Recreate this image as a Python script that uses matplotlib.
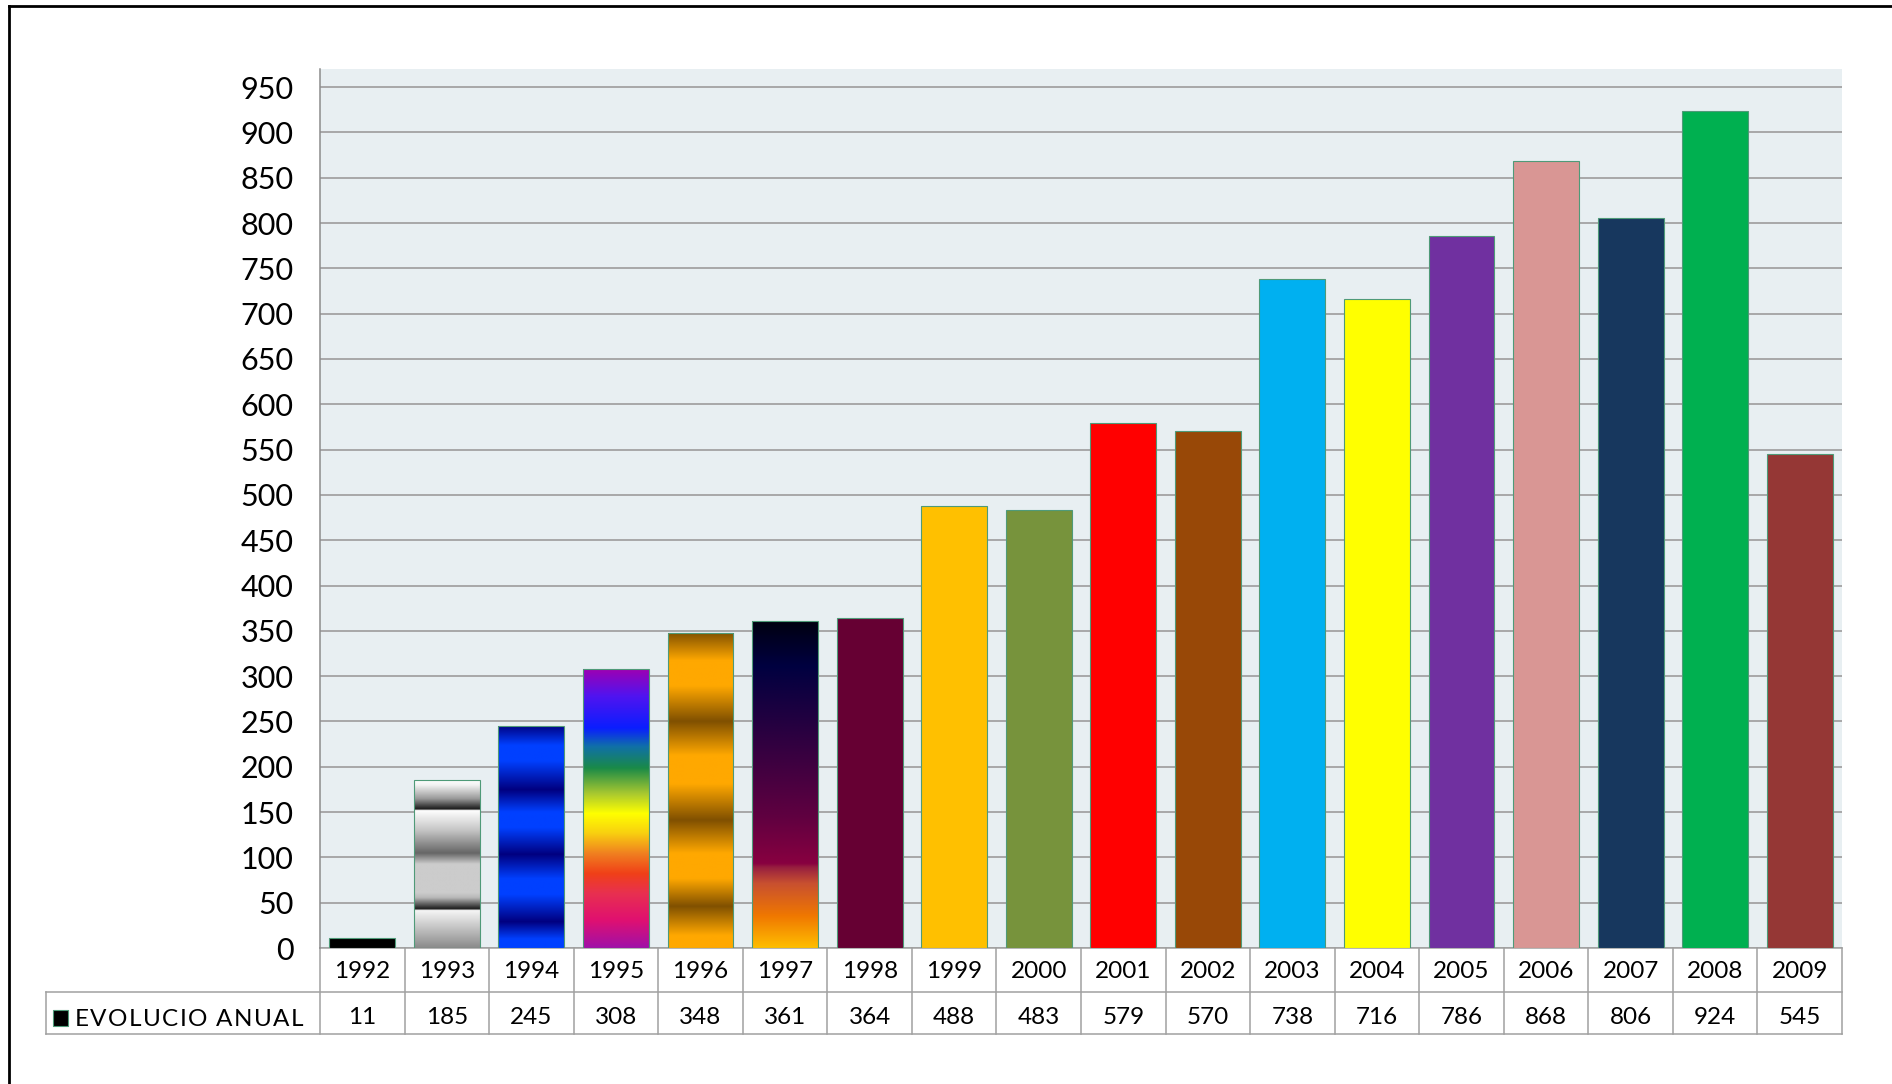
import numpy as np
import matplotlib
matplotlib.use("Agg")
import matplotlib.pyplot as plt
from matplotlib.colors import LinearSegmentedColormap
from matplotlib.lines import Line2D
from matplotlib.patches import Rectangle

# ---------------- data ----------------
years = ["1992", "1993", "1994", "1995", "1996", "1997", "1998", "1999", "2000",
         "2001", "2002", "2003", "2004", "2005", "2006", "2007", "2008", "2009"]
values = [11, 185, 245, 308, 348, 361, 364, 488, 483, 579, 570, 738, 716, 786,
          868, 806, 924, 545]
series_name = "EVOLUCIO ANUAL"
yticks = list(range(0, 951, 50))

# ---------------- styles ----------------
colors = ["#000000", None, None, None, None, None, "#660033", "#ffc000", "#77933c",
          "#ff0000", "#984807", "#00b0f0", "#ffff00", "#7030a0", "#d99694",
          "#17375e", "#00b050", "#953735"]
gradients = {
    1: [(0.0, "#8a8a8a"), (0.225, "#f6f6f6"), (0.232, "#1a1a1a"), (0.30, "#b8b8b8"),
        (0.33, "#cccccc"), (0.50, "#cccccc"), (0.565, "#666666"), (0.70, "#c4c4c4"),
        (0.82, "#ffffff"), (0.827, "#1a1a1a"), (0.89, "#9a9a9a"), (0.97, "#f2f2f2"),
        (1.0, "#ffffff")],
    2: [(0.0, "#0040ff"), (0.04, "#0040ff"), (0.118, "#000080"), (0.24, "#0040ff"),
        (0.31, "#0040ff"), (0.42, "#000080"), (0.54, "#0040ff"), (0.61, "#0040ff"),
        (0.71, "#000080"), (0.84, "#0040ff"), (0.91, "#0040ff"), (1.0, "#000080")],
    3: [(0.0, "#a010a8"), (0.10, "#e01070"), (0.195, "#e83050"), (0.266, "#f04018"),
        (0.338, "#f08020"), (0.41, "#f8d010"), (0.48, "#ffff00"), (0.552, "#a8c830"),
        (0.643, "#1a8a48"), (0.72, "#1070a8"), (0.786, "#0a1eff"), (0.90, "#5014f0"),
        (1.0, "#a000b0")],
    4: [(0.0, "#ffa800"), (0.04, "#ffa800"), (0.132, "#805000"), (0.22, "#ffa800"),
        (0.30, "#ffa800"), (0.405, "#805000"), (0.52, "#ffa800"), (0.61, "#ffa800"),
        (0.718, "#805000"), (0.83, "#ffa800"), (0.91, "#ffa800"), (1.0, "#805000")],
    5: [(0.0, "#ffbe00"), (0.097, "#f07800"), (0.197, "#c85030"), (0.245, "#98203f"),
        (0.258, "#880040"), (0.40, "#600040"), (0.554, "#400040"), (0.706, "#200040"),
        (0.86, "#000040"), (1.0, "#000010")],
}

plt.rcParams["font.family"] = ["Lato", "DejaVu Sans"]

W, H = 1892, 1084
fig = plt.figure(figsize=(W / 100, H / 100), dpi=100)
fig.patch.set_facecolor("white")

L, R, T, B = 320, 1842, 69, 948
ax = fig.add_axes([L / W, 1 - B / H, (R - L) / W, (B - T) / H])
ax.set_facecolor("#e8eff2")

n = len(years)
x = np.arange(n)
bars = ax.bar(x, values, width=0.78, color=[c if c else "none" for c in colors],
              edgecolor="#4f9a78", linewidth=0.8, zorder=3)

for i, stops in gradients.items():
    b = bars[i]
    cmap = LinearSegmentedColormap.from_list(f"g{i}", stops, N=1024)
    img = np.linspace(0, 1, 1024).reshape(-1, 1)
    im = ax.imshow(img, cmap=cmap, origin="lower", aspect="auto", interpolation="bilinear",
                   extent=(b.get_x(), b.get_x() + b.get_width(), 0, b.get_height()),
                   zorder=2.5)
    im.set_clip_path(b)

ax.set_xlim(-0.5, n - 0.5)
ax.set_ylim(0, 970)
ax.set_yticks(yticks)
ax.set_yticklabels([str(v) for v in yticks], fontsize=22)
ax.tick_params(axis="y", length=0, pad=19)
ax.set_xticks([])
ax.yaxis.grid(True, color="#a8a8a8", linewidth=1.4)
ax.set_axisbelow(True)
for s in ["top", "right", "bottom"]:
    ax.spines[s].set_visible(False)
ax.spines["left"].set_color("#8c8c8c")
ax.spines["left"].set_linewidth(1.1)

# ---------------- data table ----------------
tcol = "#a0a0a0"
tlw = 1.1
r1 = -(992 - B) / (B - T)
r2 = -(1034 - B) / (B - T)
trans = ax.get_xaxis_transform()
label_left = -0.5 - (L - 46) / ((R - L) / n)
px = 1 / (B - T)

def hline(x0, x1, y):
    ax.add_line(Line2D([x0, x1], [y, y], transform=trans, color=tcol, lw=tlw, clip_on=False))

def vline(xv, y0, y1):
    ax.add_line(Line2D([xv, xv], [y0, y1], transform=trans, color=tcol, lw=tlw, clip_on=False))

hline(-0.5, n - 0.5, 0)
hline(label_left, n - 0.5, r1)
hline(label_left, n - 0.5, r2)
for k in range(n + 1):
    vline(k - 0.5, 0, r2)
vline(label_left, r1, r2)

for i in range(n):
    ax.text(x[i], r1 / 2 - 2 * px, years[i], transform=trans, ha="center", va="center",
            fontsize=17.5, clip_on=False)
    ax.text(x[i], (r1 + r2) / 2 - 4 * px, str(values[i]), transform=trans, ha="center",
            va="center", fontsize=17.5, clip_on=False)

# legend key + series label (letter-spaced)
fig.add_artist(Rectangle((53 / W, 1 - 1026 / H), 15 / W, 16 / H, transform=fig.transFigure,
                         facecolor="black", edgecolor="#4f9a78", lw=0.8))
renderer = fig.canvas.get_renderer()
chars = list(series_name)
ycen = 1 - 1019 / H
widths = []
tmp = []
for ch in chars:
    t = fig.text(0, ycen, ch if ch != " " else "n", fontsize=17.5, va="center")
    wd = t.get_window_extent(renderer).width
    widths.append(wd if ch != " " else wd * 0.45)
    tmp.append(t)
for t in tmp:
    t.remove()
x0, x1 = 75, 303
track = ((x1 - x0) - sum(widths)) / (len(chars) - 1)
xp = x0
for ch, w in zip(chars, widths):
    if ch != " ":
        fig.text(xp / W, ycen, ch, fontsize=17.5, va="center", ha="left")
    xp += w + track

# outer frame (top and left)
fig.add_artist(Line2D([9 / W, 1], [1 - 6 / H, 1 - 6 / H], transform=fig.transFigure,
                      color="black", lw=2))
fig.add_artist(Line2D([9 / W, 9 / W], [0, 1 - 6 / H], transform=fig.transFigure,
                      color="black", lw=2))

fig.savefig("out.png", dpi=100)
